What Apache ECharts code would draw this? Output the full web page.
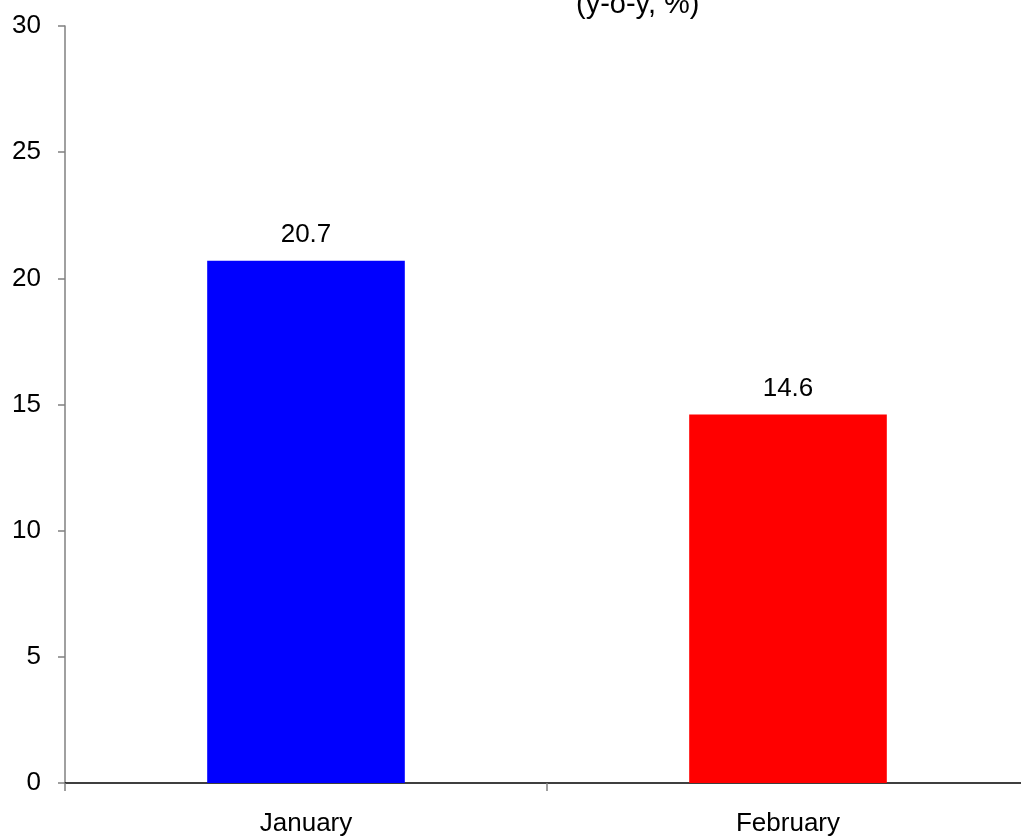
<!DOCTYPE html>
<html><head><meta charset="utf-8">
<script src="https://cdn.jsdelivr.net/npm/echarts@6/dist/echarts.min.js"></script>
<style>html,body{margin:0;padding:0;background:#fff;overflow:hidden;width:1021px;height:839px}#c{width:1029px;height:839px}</style>
</head><body><div id="c"></div>
<script>
const categories = ['January', 'February'];
const values = [20.7, 14.6];
const barColors = ['#0000FF', '#FF0000'];
const titleText = '(y-o-y, %)';

const chart = echarts.init(document.getElementById('c'));
const font = 'Liberation Sans, Arial, sans-serif';
chart.setOption({
  animation: false,
  backgroundColor: '#fff',
  title: {
    text: titleText,
    left: 571, top: -15,
    textStyle: {fontFamily: font, fontSize: 29, fontWeight: 'normal', color: '#000'}
  },
  grid: {left: 65, right: 0, top: 26, bottom: 56},
  xAxis: {
    type: 'category', data: categories,
    axisLine: {lineStyle: {color: '#000', width: 1.5}},
    axisTick: {show: true, length: 8, lineStyle: {color: '#808080', width: 1.5}},
    axisLabel: {margin: 28, fontFamily: font, fontSize: 26, color: '#000'}
  },
  yAxis: {
    type: 'value', min: 0, max: 30, interval: 5,
    splitLine: {show: false},
    axisLine: {show: true, lineStyle: {color: '#808080', width: 1.5}},
    axisTick: {show: true, length: 7, lineStyle: {color: '#808080', width: 1.5}},
    axisLabel: {margin: 24, fontFamily: font, fontSize: 26, color: '#000'}
  },
  series: [{
    type: 'bar',
    barWidth: '41%',
    data: values.map((v, i) => ({value: v, itemStyle: {color: barColors[i]}})),
    label: {show: true, position: 'top', distance: 13, fontFamily: font, fontSize: 26, color: '#000'}
  }]
});
</script></body></html>
